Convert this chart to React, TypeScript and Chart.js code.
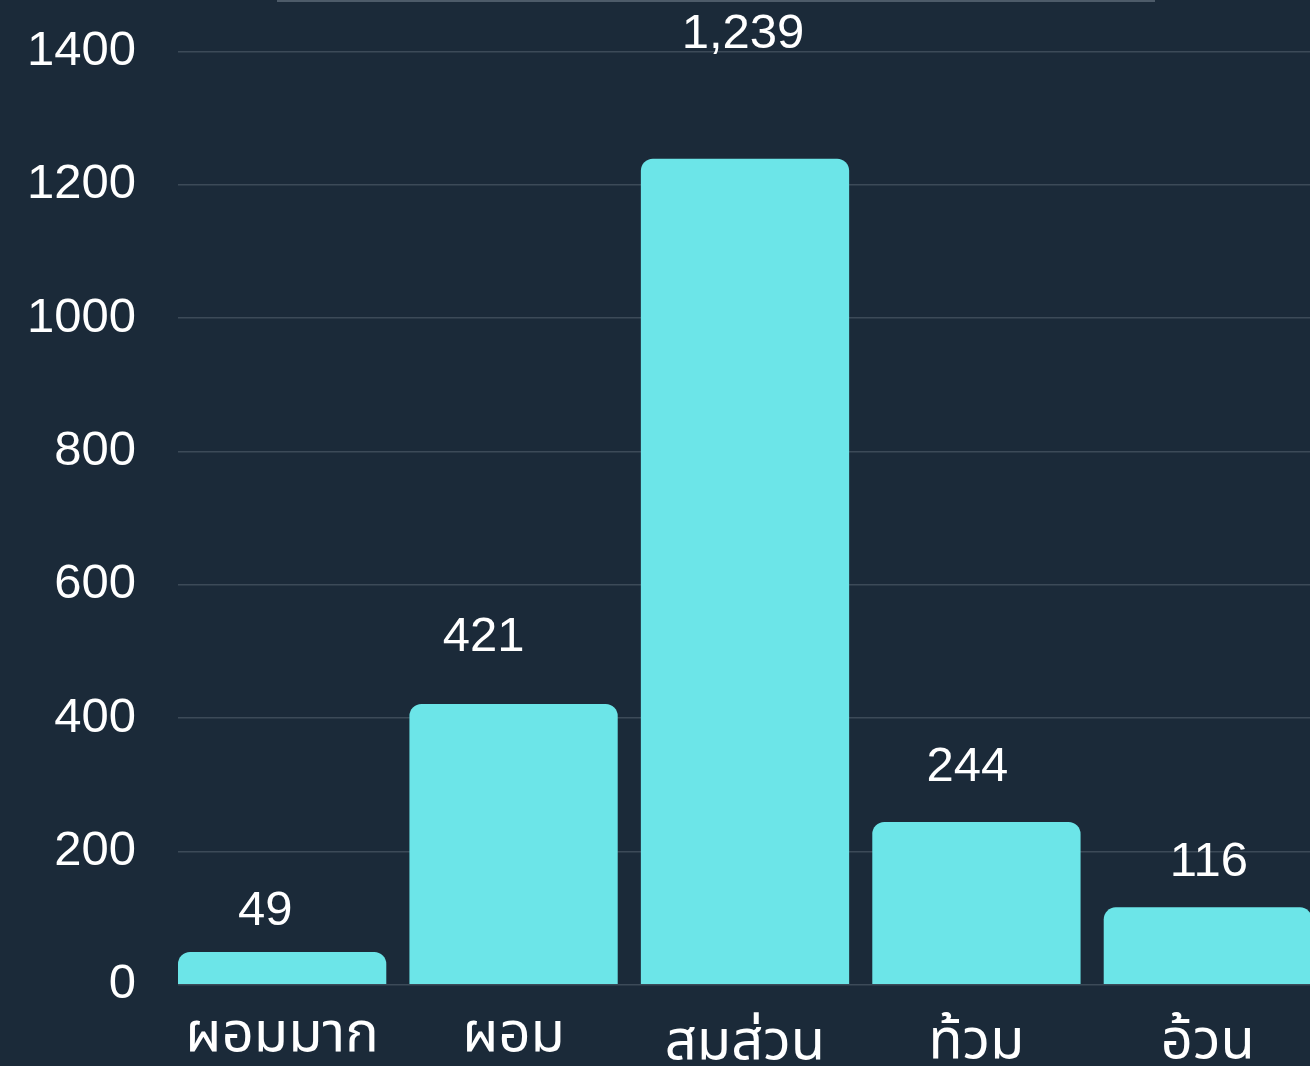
import React, { useEffect, useRef } from 'react';
import { Chart, registerables } from 'chart.js';

Chart.register(...registerables);

const categories = ['ผอมมาก', 'ผอม', 'สมส่วน', 'ท้วม', 'อ้วน'];
const counts = [49, 421, 1239, 244, 116];
const yTickValues = [0, 200, 400, 600, 800, 1000, 1200, 1400];

const BG = '#1b2a39';
const BAR = '#6ce5e8';
const GRID = '#3c4a58';
const TOPLINE = '#4d5b69';
const FONT = '"Liberation Sans", Arial, sans-serif';
const THAI_FONT = '"Noto Sans Thai", "Noto Sans Thai UI", "Noto Sans", "Liberation Sans", sans-serif';
const LABEL_SHIFT_X = [-17, -30, -2, -9, 1];

const CANVAS_W = 1312;
const CANVAS_H = 1080;

export default function App() {
  const ref = useRef<HTMLCanvasElement>(null);

  useEffect(() => {
    const canvas = ref.current;
    if (!canvas) return;

    const valueLabels = {
      id: 'valueLabels',
      afterDatasetsDraw(chart: any) {
        const ctx = chart.ctx;
        const meta = chart.getDatasetMeta(0);
        const y = chart.scales.y;
        ctx.save();
        ctx.font = `49px ${FONT}`;
        ctx.fillStyle = '#ffffff';
        ctx.textAlign = 'center';
        ctx.textBaseline = 'alphabetic';
        const digitH = ctx.measureText('0').actualBoundingBoxAscent;
        meta.data.forEach((el: any, i: number) => {
          const v = counts[i];
          const cy = y.getPixelForValue(v * 1.1057 + 61);
          ctx.fillText(v.toLocaleString('en-US'), el.x + LABEL_SHIFT_X[i], cy + digitH / 2);
        });
        ctx.restore();
      },
    };

    const categoryLabels = {
      id: 'categoryLabels',
      afterDraw(chart: any) {
        const ctx = chart.ctx;
        const x = chart.scales.x;
        const centerY = chart.chartArea.bottom + 51;
        ctx.save();
        ctx.font = `56px ${THAI_FONT}`;
        ctx.fillStyle = '#ffffff';
        ctx.textAlign = 'center';
        ctx.textBaseline = 'alphabetic';
        categories.forEach((label, i) => {
          const m = ctx.measureText(label);
          const a = m.actualBoundingBoxAscent;
          const d = m.actualBoundingBoxDescent;
          ctx.fillText(label, x.getPixelForValue(i), centerY + (a - d) / 2);
        });
        ctx.restore();
      },
    };

    const chart = new Chart(canvas, {
      type: 'bar',
      data: {
        datasets: [
          {
            data: categories.map((c, i) => ({ x: i, y: counts[i] })),
            backgroundColor: BAR,
            borderRadius: 12,
            borderSkipped: 'start',
            barPercentage: 0.9,
            categoryPercentage: 1,
          },
        ],
      },
      options: {
        responsive: false,
        animation: false,
        layout: { padding: { top: 51.4, left: 0, right: 0, bottom: 0 } },
        plugins: {
          legend: { display: false },
          tooltip: { enabled: false },
        },
        scales: {
          x: {
            type: 'linear',
            min: -0.45,
            max: 4.45,
            offset: false,
            grid: { display: false },
            border: { display: false },
            ticks: { display: false, stepSize: 1, includeBounds: false },
            afterFit: (s: any) => {
              s.height = CANVAS_H - 984.7;
              s.paddingLeft = 0;
              s.paddingRight = 0;
            },
          },
          y: {
            min: 0,
            max: 1400,
            grid: { color: GRID, lineWidth: 1.5, drawTicks: false },
            border: { display: false },
            ticks: {
              stepSize: 200,
              color: '#ffffff',
              font: { family: FONT, size: 49 },
              padding: 42,
              callback: (v: any) => (yTickValues.includes(v) ? String(v) : ''),
            },
            afterFit: (s: any) => {
              s.width = 178;
              s.paddingTop = 0;
              s.paddingBottom = 0;
            },
          },
        },
      },
      plugins: [valueLabels, categoryLabels],
    } as any);

    return () => chart.destroy();
  }, []);

  return (
    <div
      style={{
        position: 'fixed',
        left: 0,
        top: 0,
        width: 1310,
        height: 1066,
        overflow: 'hidden',
        background: BG,
      }}
    >
      <div
        style={{
          position: 'absolute',
          left: 277,
          top: 0,
          width: 878,
          height: 2,
          background: TOPLINE,
        }}
      />
      <canvas
        ref={ref}
        width={CANVAS_W}
        height={CANVAS_H}
        style={{ position: 'absolute', left: 0, top: 0, width: CANVAS_W, height: CANVAS_H }}
      />
    </div>
  );
}
